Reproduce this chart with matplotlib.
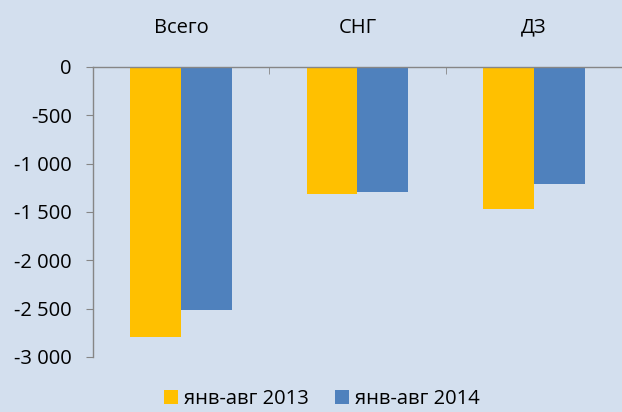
import matplotlib
matplotlib.use("Agg")
import matplotlib.pyplot as plt
import numpy as np
from matplotlib.ticker import FuncFormatter

categories = ["Всего", "СНГ", "ДЗ"]
series_names = ["янв-авг 2013", "янв-авг 2014"]
values_2013 = [-2790, -1310, -1470]
values_2014 = [-2510, -1295, -1215]
yticks = [0, -500, -1000, -1500, -2000, -2500, -3000]

bg = "#D3DFEE"
colors = ["#FFC000", "#4F81BD"]
axis_col = "#868686"

plt.rcParams["font.family"] = ["Open Sans", "DejaVu Sans"]

fig = plt.figure(figsize=(6.22, 4.12), dpi=100, facecolor=bg)
ax = fig.add_axes([0.149, 0.1335, 0.851, 0.704])
ax.set_facecolor(bg)

x = np.arange(len(categories))
w = 0.288
ax.bar(x - w / 2, values_2013, w, color=colors[0], label=series_names[0])
ax.bar(x + w / 2, values_2014, w, color=colors[1], label=series_names[1])

ax.set_xlim(-0.5, len(categories) - 0.5)
ax.set_ylim(-3000, 0)
ax.set_yticks(yticks)
ax.yaxis.set_major_formatter(FuncFormatter(lambda v, _: f"{int(v):,}".replace(",", " ")))

for s in ["right", "bottom"]:
    ax.spines[s].set_visible(False)
for s in ["left", "top"]:
    ax.spines[s].set_color(axis_col)
    ax.spines[s].set_linewidth(1.0)

ax.tick_params(axis="y", colors=axis_col, length=5, labelcolor="black", labelsize=14.5, pad=10)

ax.xaxis.tick_top()
ax.set_xticks(x)
ax.set_xticklabels(categories)
ax.set_xticks(np.arange(-0.5, len(categories)), minor=True)
ax.tick_params(axis="x", which="major", length=0, labelsize=14.5, pad=21)
ax.tick_params(axis="x", which="minor", direction="in", length=5, colors=axis_col)

# kept just inside the bottom edge so the legend text is not clipped
fig.legend(loc="center", bbox_to_anchor=(0.518, 0.032), ncol=2, frameon=False,
           fontsize=14.5, handlelength=0.7, handleheight=0.7, handletextpad=0.3,
           columnspacing=1.3)

fig.savefig("out.png", dpi=100, facecolor=bg)
